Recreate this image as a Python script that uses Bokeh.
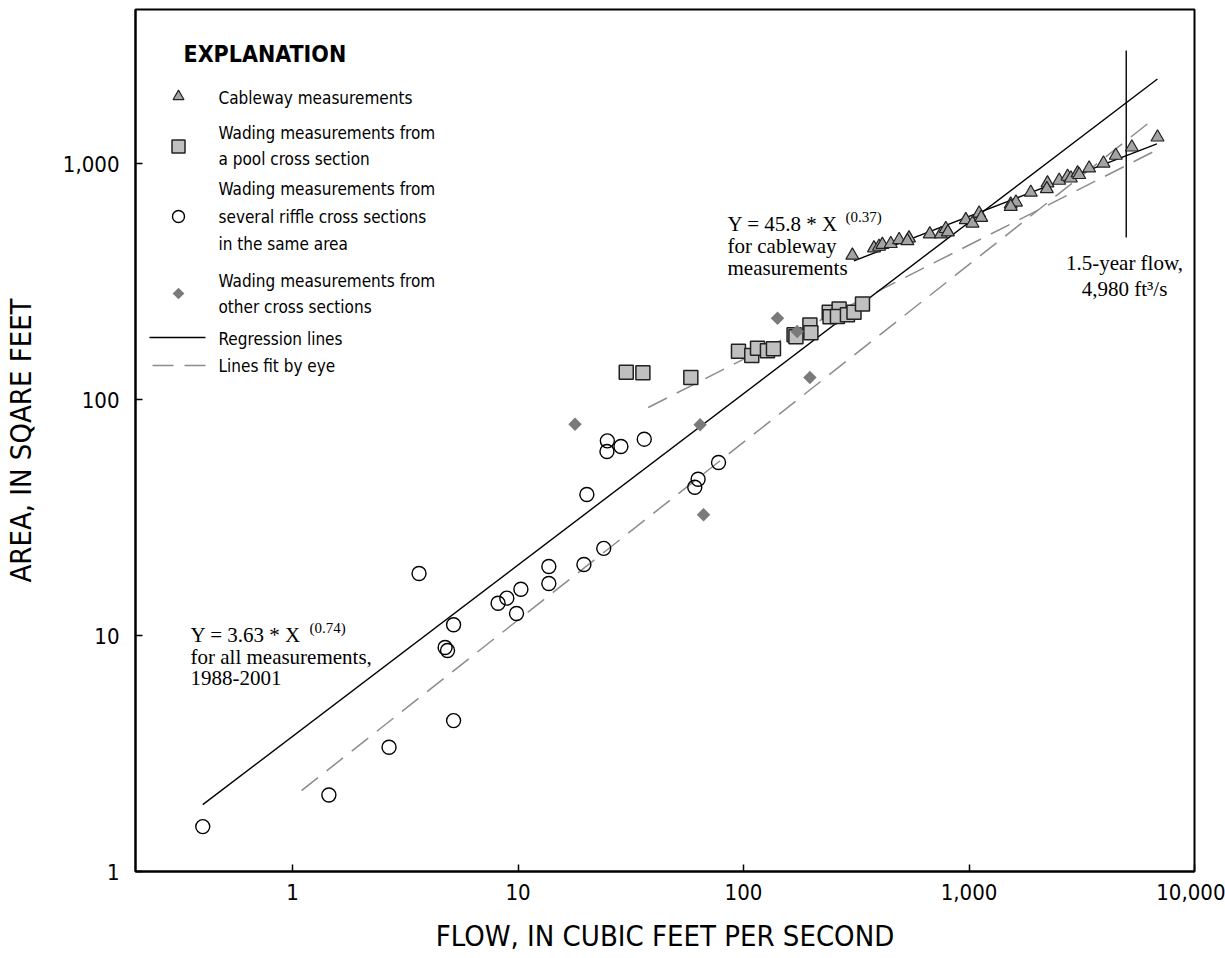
import math
from bokeh.plotting import figure
from bokeh.models import FixedTicker, Label
from bokeh.embed import file_html
from bokeh.resources import INLINE

# ---------------- data ----------------
cable_x = [304, 379, 399, 413, 450, 490, 542, 533, 670, 750, 789, 806, 968, 1036,
           1109, 1133, 1531, 1615, 1531, 1880, 2229, 2214, 2511, 2736, 2830, 3030,
           3080, 3410, 3948, 4478, 5275, 6855]
cable_y = [408, 438, 445, 453, 457, 475, 483, 470, 502, 502, 529, 512, 577, 558,
           615, 590, 672, 685, 657, 754, 826, 781, 847, 881, 866, 910,
           896, 955, 1002, 1081, 1172, 1292]

pool_x = [30.2, 35.8, 58.4, 95.0, 108.8, 115.4, 127.7, 135.8, 167.6, 170.8, 197, 199,
          240, 265.5, 242, 261, 289, 309, 337]
pool_y = [130.6, 129.7, 124, 160, 153.6, 165, 161, 164, 188, 184.5, 207, 192,
          234, 242, 224, 225, 228.6, 234, 254]

riffle_x = [0.40, 1.45, 2.68, 3.64, 5.18, 5.18, 4.75, 4.87, 8.16, 8.92, 10.3, 9.85,
            13.7, 13.7, 19.6, 24.0, 20.2, 24.9, 24.8, 28.6, 36.3, 77.5, 62.9, 60.8]
riffle_y = [1.55, 2.11, 3.36, 18.3, 4.36, 11.1, 8.9, 8.64, 13.7, 14.4, 15.7, 12.4,
            19.6, 16.6, 20.0, 23.4, 39.6, 66.8, 60.2, 63.2, 67.9, 54.1, 45.9, 42.5]

other_x = [17.9, 64.2, 66.5, 141.5, 197, 173]
other_y = [78.6, 78.1, 32.5, 221, 124, 194]

# regression lines
reg_all_x = [0.40, 6850]
reg_all_y = [1.92, 2280]
reg_cab_x = [309, 6810]
reg_cab_y = [387, 1211]

# lines fit by eye
eye_low_x = [1.096, 6194]
eye_low_y = [2.20, 1473]
eye_pool_x = [37.8, 6516]
eye_pool_y = [92.5, 1117]

# 1.5-year flow
flow15_x = [4980, 4980]
flow15_y = [3013, 486]

x_ticks = [1, 10, 100, 1000, 10000]
x_tick_labels = ["1", "10", "100", "1,000", "10,000"]
y_ticks = [1, 10, 100, 1000]
y_tick_labels = ["1", "10", "100", "1,000"]

# ---------------- layout helpers (pixel -> data for annotation placement) ----
FL, FR, FT, FB = 135, 1194, 9, 871
XMAX = 10000.0
DEC_X = 225.5
DEC_Y = 236.0
XMIN = 10 ** (4 - (FR - FL) / DEC_X)
YMIN = 1.0
YMAX = 10 ** ((FB - FT) / DEC_Y)


def fx(px):
    return 10 ** (4 - (FR - px) / DEC_X)


def fy(py):
    return 10 ** ((FB - py) / DEC_Y)


SANS = "DejaVu Sans Condensed, Roboto, sans-serif"
SERIF = "Liberation Serif"

p = figure(width=1225, height=958, x_axis_type="log", y_axis_type="log",
           x_range=(XMIN, XMAX), y_range=(YMIN, YMAX),
           output_backend="svg", toolbar_location=None,
           min_border_left=FL, min_border_right=1225 - FR,
           min_border_top=FT, min_border_bottom=958 - FB)
p.grid.visible = False
p.outline_line_color = "black"
p.outline_line_width = 2
p.background_fill_color = "white"
p.border_fill_color = "white"

for ax, ticks, labels in ((p.xaxis, x_ticks, x_tick_labels), (p.yaxis, y_ticks, y_tick_labels)):
    ax.ticker = FixedTicker(ticks=ticks)
    ax.major_label_overrides = {t: l for t, l in zip(ticks, labels)}
    ax.axis_line_width = 2
    ax.axis_line_color = "black"
    ax.major_tick_in = 7
    ax.major_tick_out = 0
    ax.major_tick_line_width = 1.5
    ax.minor_tick_line_color = None
    ax.major_label_text_font = SANS
    ax.major_label_text_font_size = "22px"
    ax.major_label_text_color = "black"
    ax.axis_label_text_font = SANS
    ax.axis_label_text_font_size = "29px"
    ax.axis_label_text_font_style = "normal"
    ax.axis_label_text_color = "black"

p.xaxis.axis_label = "FLOW, IN CUBIC FEET PER SECOND"
p.yaxis.axis_label = "AREA, IN SQARE FEET"
p.xaxis.major_label_standoff = 12
p.xaxis.axis_label_standoff = 16
p.yaxis.major_label_standoff = 16
p.yaxis.axis_label_standoff = 22

DASH_COLOR = "#8c8c8c"
# lines
p.line(eye_low_x, eye_low_y, line_color=DASH_COLOR, line_width=1.5, line_dash="21 11")
p.line(eye_pool_x, eye_pool_y, line_color=DASH_COLOR, line_width=1.5, line_dash="21 11")
p.line(reg_all_x, reg_all_y, line_color="black", line_width=1.4)
p.line(reg_cab_x, reg_cab_y, line_color="black", line_width=1.4)
p.line(flow15_x, flow15_y, line_color="black", line_width=1.4)

# markers
p.scatter(riffle_x, riffle_y, marker="circle", size=14, fill_color=None,
          line_color="black", line_width=1.4)
p.scatter(pool_x, pool_y, marker="square", size=14, fill_color="#c0c0c0",
          line_color="#222222", line_width=1.5)
p.scatter(other_x, other_y, marker="square", angle=math.pi / 4, size=9.5,
          fill_color="#7a7a7a", line_color=None)
p.scatter(cable_x, cable_y, marker="triangle", size=13, fill_color="#a4a4a4",
          line_color="#222222", line_width=1.2)

# ---------------- explanation (legend) ----------------
p.add_layout(Label(x=fx(183), y=fy(53), text="EXPLANATION", text_font=SANS,
                   text_font_size="23px", text_font_style="bold",
                   text_baseline="middle", text_color="black"))
MX = fx(178)
p.scatter([MX], [fy(96)], marker="triangle", size=11, fill_color="#a4a4a4",
          line_color="#222222", line_width=1.2)
p.scatter([MX], [fy(146)], marker="square", size=13, fill_color="#c0c0c0",
          line_color="#222222", line_width=1.5)
p.scatter([MX], [fy(216)], marker="circle", size=12, fill_color=None,
          line_color="black", line_width=1.4)
p.scatter([MX], [fy(293)], marker="square", angle=math.pi / 4, size=8.3,
          fill_color="#7a7a7a", line_color=None)
p.line([fx(149), fx(205)], [fy(337), fy(337)], line_color="black", line_width=1.4)
p.line([fx(152), fx(205)], [fy(365), fy(365)], line_color=DASH_COLOR, line_width=1.5,
       line_dash="21 11")

legend_lines = [
    ("Cableway measurements", 97),
    ("Wading measurements from", 132),
    ("a pool cross section", 158),
    ("Wading measurements from", 188.5),
    ("several riffle cross sections", 216.5),
    ("in the same area", 243),
    ("Wading measurements from", 280),
    ("other cross sections", 306.5),
    ("Regression lines", 338),
    ("Lines fit by eye", 365),
]
for txt, py in legend_lines:
    p.add_layout(Label(x=fx(218), y=fy(py), text=txt, text_font=SANS,
                       text_font_size="17px", text_baseline="middle",
                       text_color="black"))

# ---------------- annotations ----------------
serif_lines = [
    ("Y = 45.8 * X", 727, 223, "left"),
    ("for cableway", 727, 245, "left"),
    ("measurements", 727, 267, "left"),
    ("Y = 3.63 * X", 190, 634, "left"),
    ("for all measurements,", 190, 656, "left"),
    ("1988-2001", 190, 677, "left"),
    ("1.5-year flow,", 1124, 262, "center"),
    ("4,980 ft\u00b3/s", 1124, 288, "center"),
]
for txt, px, py, al in serif_lines:
    p.add_layout(Label(x=fx(px), y=fy(py), text=txt, text_font=SERIF,
                       text_font_size="21px", text_baseline="middle",
                       text_align=al, text_color="black"))
for txt, px, py in (("(0.37)", 845, 216), ("(0.74)", 309, 627)):
    p.add_layout(Label(x=fx(px), y=fy(py), text=txt, text_font=SERIF,
                       text_font_size="15px", text_baseline="middle",
                       text_color="black"))

open("out.html", "w").write(file_html(p, INLINE))
